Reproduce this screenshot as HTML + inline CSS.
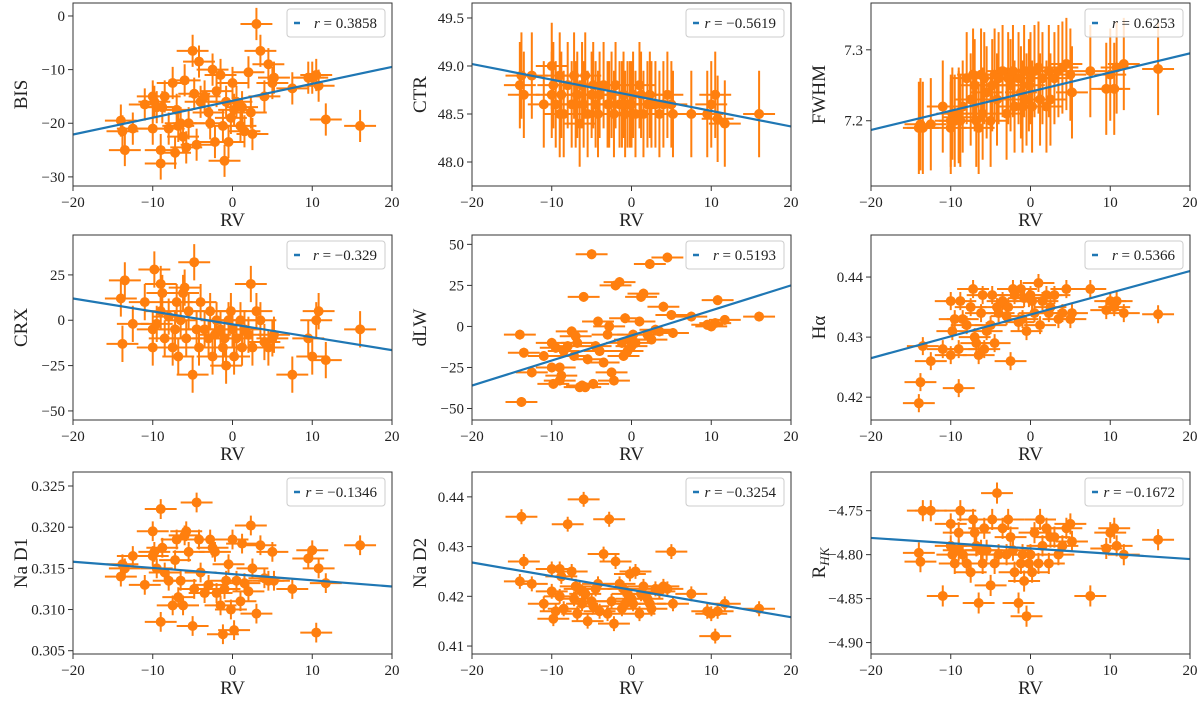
<!DOCTYPE html>
<html><head><meta charset="utf-8">
<style>
html,body{margin:0;padding:0;background:#fff;}
svg{display:block;font-family:"Liberation Serif","DejaVu Serif",serif;}
</style></head>
<body>
<svg id="fig" width="1200" height="703" viewBox="0 0 1200 703" xmlns="http://www.w3.org/2000/svg"></svg>
<script>
const rv = [-14,-13.8,-13.5,-12.5,-11,-10,-10,-9.8,-9.5,-9,
-9,-8.8,-8.5,-8,-7.5,-7.2,-7,-6.8,-6.5,-6.2,
-6,-5.8,-5.5,-5,-4.8,-4.5,-4.2,-4,-3.5,-3,
-2.8,-2.5,-2.2,-2,-1.5,-1.2,-1,-0.8,-0.5,-0.2,
0,0.2,0.5,1,1.2,1.5,2,2.3,2.5,3,
3.5,4,4.5,5,5.2,7.5,9.5,10,10.5,10.8,
11.7,16];
const bis = [-19.5,-21.5,-25,-21,-16.5,-15,-21,-16,-17,-27.5,
-25,-17,-15,-21,-12.5,-25.5,-17.5,-20.5,-20,-22.5,
-12,-24.5,-20,-6.5,-14.5,-24,-8.5,-16,-15,-18,
-20,-10,-23.5,-14,-11,-20.5,-27,-16,-23.5,-19,
-12.5,-17.5,-16,-20.5,-17,-21.5,-10.5,-18,-22,-1.5,
-6.5,-15,-9,-12.5,-11.5,-13.5,-11.5,-11.5,-11,-13,
-19.3,-20.5];
const ctr = [48.8,48.9,48.7,48.9,48.6,49.0,48.7,48.8,48.6,48.5,
48.9,48.7,48.5,48.8,48.6,48.9,48.6,48.7,48.4,48.8,
48.6,48.9,48.5,48.7,48.8,48.6,48.5,48.7,48.8,48.6,
48.6,48.7,48.5,48.8,48.6,48.6,48.7,48.5,48.6,48.6,
48.6,48.7,48.5,48.8,48.7,48.5,48.6,48.7,48.6,48.6,
48.5,48.6,48.7,48.6,48.5,48.5,48.5,48.6,48.7,48.45,
48.4,48.5];
const fwhm = [7.19,7.195,7.19,7.195,7.22,7.2,7.19,7.21,7.2,7.205,
7.21,7.2,7.22,7.26,7.23,7.265,7.25,7.2,7.19,7.265,
7.21,7.26,7.24,7.2,7.25,7.265,7.23,7.26,7.27,7.21,
7.26,7.25,7.27,7.22,7.26,7.24,7.22,7.27,7.23,7.25,
7.26,7.22,7.27,7.275,7.23,7.26,7.22,7.27,7.23,7.26,
7.27,7.275,7.28,7.265,7.24,7.27,7.245,7.265,7.245,7.275,
7.28,7.273];
const crx = [12,-13,22,-2,10,-5,-15,28,-2,5,
20,15,-10,2,-15,-5,10,-20,0,15,
18,-10,5,-30,32,-5,-15,10,-5,-10,
5,-20,-8,0,-5,-15,-10,-25,0,5,
-5,-20,-10,0,-15,-5,-8,20,-15,5,
0,-12,-15,-10,-8,-30,-10,-20,0,5,
-22,-5];
const dlw = [-5,-46,-16,-28,-18,-10,-25,-35,-13,-33,
-25,-30,-15,-12,-3,-18,-6,-10,-37,-36,
18,-37,-20,44,-35,-12,3,-15,-22,-5,
0,-28,-33,25,27,-10,-18,5,-15,-8,
-12,-5,-10,3,18,20,-5,38,-8,-2,
-3,12,42,7,-4,6,1,0,2,16,
4,6];
const halpha = [0.419,0.4225,0.4285,0.426,0.428,0.436,0.427,0.431,0.433,0.428,
0.4215,0.436,0.433,0.432,0.435,0.438,0.43,0.429,0.427,0.434,
0.437,0.428,0.431,0.432,0.437,0.429,0.435,0.434,0.436,0.4335,
0.435,0.426,0.438,0.437,0.4325,0.438,0.433,0.4365,0.431,0.4365,
0.437,0.436,0.434,0.439,0.432,0.436,0.437,0.434,0.435,0.437,
0.433,0.434,0.438,0.433,0.434,0.438,0.4345,0.436,0.435,0.436,
0.434,0.4338];
const nad1 = [0.314,0.3155,0.315,0.3165,0.313,0.3195,0.3165,0.317,0.315,0.3085,
0.3222,0.3175,0.3145,0.3135,0.3105,0.316,0.3185,0.3115,0.3135,0.3105,
0.319,0.3195,0.317,0.308,0.3125,0.323,0.3185,0.3145,0.312,0.313,
0.3185,0.3175,0.317,0.312,0.3105,0.307,0.3125,0.3135,0.3155,0.31,
0.3185,0.3075,0.3135,0.311,0.318,0.3132,0.3122,0.3202,0.315,0.3095,
0.3178,0.3138,0.3135,0.317,0.3135,0.3125,0.3162,0.3172,0.3072,0.315,
0.3132,0.3178];
const nad2 = [0.423,0.436,0.427,0.4225,0.4185,0.4255,0.421,0.4155,0.417,0.4255,
0.42,0.424,0.4175,0.4345,0.425,0.4195,0.422,0.4165,0.4215,0.4185,
0.4395,0.4205,0.415,0.419,0.418,0.4215,0.4225,0.417,0.4285,0.4165,
0.4355,0.419,0.4145,0.427,0.4225,0.4175,0.4215,0.4185,0.4205,0.4245,
0.4195,0.4185,0.425,0.4165,0.4205,0.422,0.4195,0.4185,0.4175,0.4215,
0.421,0.422,0.4215,0.429,0.4185,0.4205,0.417,0.4165,0.412,0.417,
0.4185,0.4175];
const rhk = [-4.798,-4.808,-4.75,-4.75,-4.847,-4.765,-4.79,-4.8,-4.81,-4.775,
-4.795,-4.75,-4.8,-4.81,-4.82,-4.76,-4.775,-4.79,-4.855,-4.795,
-4.81,-4.77,-4.795,-4.835,-4.76,-4.81,-4.73,-4.8,-4.77,-4.8,
-4.76,-4.78,-4.795,-4.82,-4.855,-4.81,-4.8,-4.83,-4.87,-4.81,
-4.8,-4.82,-4.775,-4.81,-4.76,-4.79,-4.77,-4.81,-4.78,-4.78,
-4.8,-4.79,-4.77,-4.765,-4.785,-4.847,-4.793,-4.775,-4.77,-4.79,
-4.8,-4.783];
const labels = ["BIS","CTR","FWHM","CRX","dLW","Hα","Na D1","Na D2","R_HK"];
const rValues = ["0.3858","−0.5619","0.6253","−0.329","0.5193","0.5366","−0.1346","−0.3254","−0.1672"];
const fitLeft = [-22.1,49.02,7.187,12,-36,0.4265,0.3158,0.4268,-4.781];
const fitRight = [-9.5,48.37,7.295,-16.5,25,0.441,0.3128,0.4158,-4.805];
const yTicks = [[0,-10,-20,-30],[49.5,49.0,48.5,48.0],[7.3,7.2],[25,0,-25,-50],[50,25,0,-25,-50],[0.44,0.43,0.42],[0.325,0.320,0.315,0.310,0.305],[0.44,0.43,0.42,0.41],[-4.75,-4.80,-4.85,-4.90]];
const yTickDigits = [0,1,1,0,0,2,3,2,2];
const yErrs = [3,0.45,0.065,10,3,0.0015,0.0012,0.0015,0.012];
const xTicks = [-20,-10,0,10,20];
const yRanges = [[-31.7,2.42],[47.75,49.656],[7.108,7.366],[-55,47],[-57,55.7],[0.4162,0.447],[0.3046,0.3267],[0.4084,0.445],[-4.913,-4.706]];
const series = [bis,ctr,fwhm,crx,dlw,halpha,nad1,nad2,rhk];
const xErr = 2;

const NS="http://www.w3.org/2000/svg";
const svg=document.getElementById('fig');
const colL=[73,472,871], colR=[392,791,1190];
const rowT=[3,235,472], rowB=[186,420,654];
function mk(tag,attrs,parent){const e=document.createElementNS(NS,tag);for(const k in attrs)e.setAttribute(k,attrs[k]);(parent||svg).appendChild(e);return e;}
function fmt(v,d){let s=v.toFixed(d);return s.replace('-','−');}

for(let p=0;p<9;p++){
  const c=p%3,r=Math.floor(p/3);
  const L=colL[c],R=colR[c],T=rowT[r],B=rowB[r];
  const [y0,y1]=yRanges[p];
  const X=v=>L+(v+20)/40*(R-L);
  const Y=v=>B-(v-y0)/(y1-y0)*(B-T);
  const g=mk('g',{});
  
  
  const clipId='clip'+p;
  const cp=mk('clipPath',{id:clipId},g);mk('rect',{x:L,y:T,width:R-L,height:B-T},cp);
  const data=mk('g',{'clip-path':'url(#'+clipId+')'},g);
  
  
  const ys=series[p];
  const n=Math.min(rv.length,ys.length);
  for(let i=0;i<n;i++){
    const cx=X(rv[i]),cy=Y(ys[i]);
    const eb=mk('path',{d:`M${X(rv[i]-xErr)},${cy}H${X(rv[i]+xErr)}M${cx},${Y(ys[i]-yErrs[p])}V${Y(ys[i]+yErrs[p])}`,stroke:'#ff7f0e','stroke-width':2,fill:'none'},data);
    
    
  }
  for(let i=0;i<n;i++){
    const pt=mk('circle',{cx:X(rv[i]),cy:Y(ys[i]),r:5,fill:'#ff7f0e'},data);
    
    
  }
  const ln=mk('line',{x1:X(-20),y1:Y(fitLeft[p]),x2:X(20),y2:Y(fitRight[p]),stroke:'#1f77b4','stroke-width':2.2},data);
  
  
  const fr=mk('rect',{x:L,y:T,width:R-L,height:B-T,fill:'none',stroke:'#333','stroke-width':1},g);
  
  
  xTicks.forEach(t=>{
    const x=X(t);
    mk('line',{x1:x,y1:B,x2:x,y2:B+5,stroke:'#333','stroke-width':1},g);
    const tx=mk('text',{x:x,y:B+21,'font-size':15,'text-anchor':'middle',fill:'#222'},g);
    tx.textContent=fmt(t,0);
    
    
  });
  yTicks[p].forEach(t=>{
    const y=Y(t);
    mk('line',{x1:L-5,y1:y,x2:L,y2:y,stroke:'#333','stroke-width':1},g);
    const tx=mk('text',{x:L-8,y:y+5,'font-size':15,'text-anchor':'end',fill:'#222'},g);
    tx.textContent=fmt(t,yTickDigits[p]);
    
    
  });
  const xl=mk('text',{x:(L+R)/2,y:B+40,'font-size':19,'text-anchor':'middle',fill:'#222'},g);
  xl.textContent='RV';
  
  
  const yl=mk('text',{x:0,y:0,'font-size':19,'text-anchor':'middle',fill:'#222',transform:`translate(${L-46},${(T+B)/2}) rotate(-90)`},g);
  
  
  if(labels[p]==='R_HK'){yl.textContent='R';const s=mk('tspan',{'font-size':13,'font-style':'italic',dy:4},yl);s.textContent='HK';}
  else yl.textContent=labels[p];
  const lg=mk('g',{},g);
  
  
  const lw=98,lx=R-lw-7,ly=T+6;
  mk('rect',{x:lx,y:ly,width:lw,height:28,rx:3,fill:'#fff','fill-opacity':0.8,stroke:'#ccc','stroke-width':1},lg);
  mk('line',{x1:lx+7,y1:ly+14,x2:lx+13,y2:ly+14,stroke:'#1f77b4','stroke-width':2.5},lg);
  const lt=mk('text',{x:lx+lw-8,y:ly+19,'font-size':15,'text-anchor':'end',fill:'#222'},lg);
  
  
  const ri=mk('tspan',{'font-style':'italic'},lt);ri.textContent='r';
  const rt=mk('tspan',{},lt);rt.textContent=' = '+rValues[p];
}
</script>
</body></html>
